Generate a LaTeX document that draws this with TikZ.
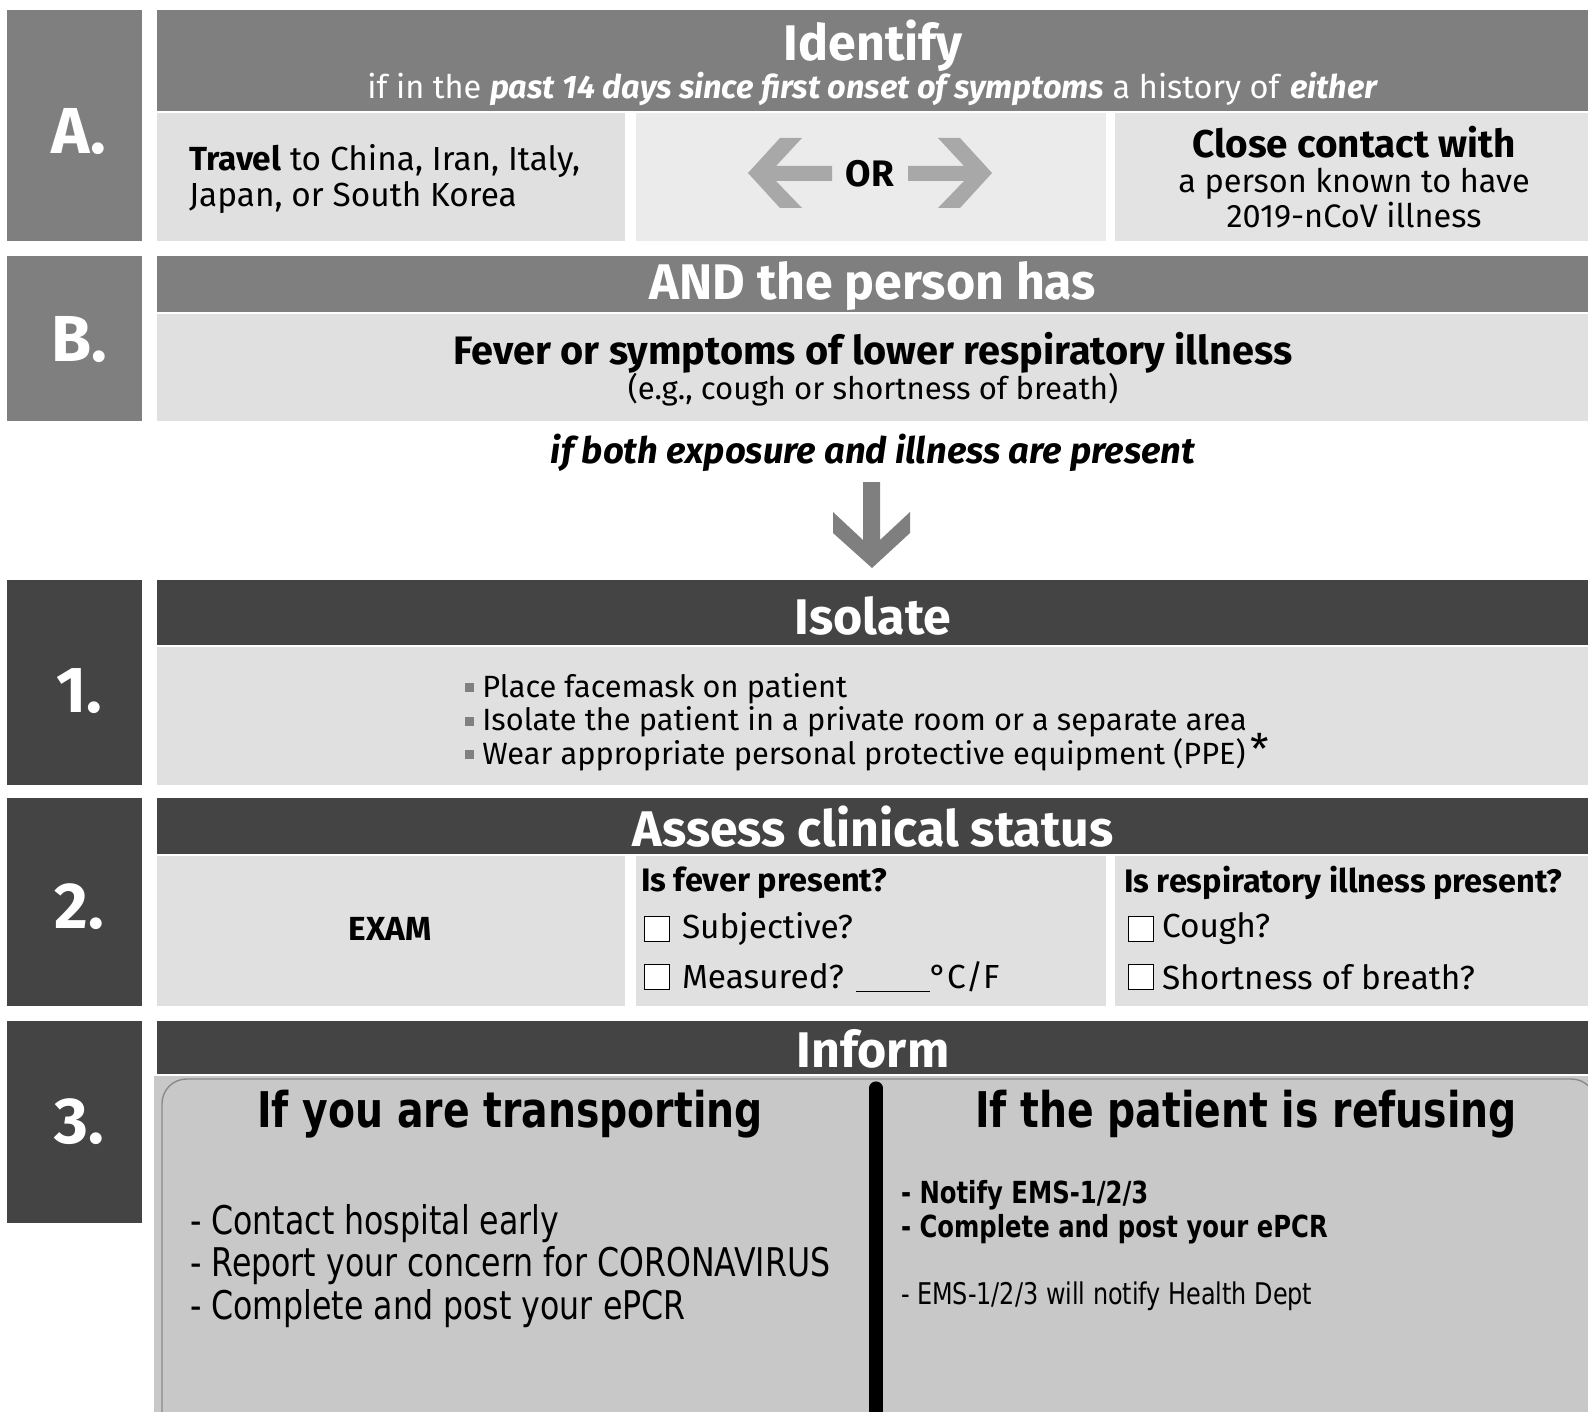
\documentclass[tikz,border=0pt]{standalone}
\usepackage{fontspec}
\setmainfont{Fira Sans}
\newfontfamily\tahoma{DejaVu Sans}[FakeStretch=0.8]
\usepackage{tikz}

\definecolor{midgrey}{HTML}{7F7F7F}
\definecolor{darkgrey}{HTML}{444444}
\definecolor{cellgrey}{HTML}{E0E0E0}
\definecolor{orcell}{HTML}{EBEBEB}
\definecolor{contactcell}{HTML}{E3E3E3}
\definecolor{informgrey}{HTML}{C8C8C8}
\definecolor{arrowgrey}{HTML}{A8A8A8}
\definecolor{downgrey}{HTML}{7F7F7F}
\definecolor{edgegrey}{HTML}{8A8A8A}

\begin{document}
\begin{tikzpicture}[x=0.02cm, y=-0.02cm,
    every node/.style={inner sep=0pt, outer sep=0pt},
    numlbl/.style={text=white, font=\fontsize{37}{40}\selectfont\bfseries},
    hdrtext/.style={text=white, font=\fontsize{28.5}{32}\selectfont\bfseries},
    bodytext/.style={font=\fontsize{19}{20}\selectfont},
    qtext/.style={font=\fontsize{18.5}{20}\selectfont\bfseries},
    chk/.style={draw, fill=white, line width=0.8pt, minimum size=0.5cm},
    infotitle/.style={font=\tahoma\fontsize{28}{30}\selectfont\bfseries},
    infotext/.style={font=\tahoma\fontsize{22.5}{24}\selectfont}]

    \useasboundingbox (0,0) rectangle (1588,1412);

    % Row A
    \fill[midgrey] (7,10) rectangle (142,241);
    \fill[midgrey] (157,10) rectangle (1588,111);
    \fill[cellgrey] (157,113) rectangle (625,241);
    \fill[orcell] (636,113) rectangle (1106,241);
    \fill[contactcell] (1115,113) rectangle (1588,241);
    % Row B
    \fill[midgrey] (7,256) rectangle (142,421);
    \fill[midgrey] (157,256) rectangle (1588,312);
    \fill[cellgrey] (157,314) rectangle (1588,421);
    % Row 1
    \fill[darkgrey] (7,580) rectangle (142,785);
    \fill[darkgrey] (157,580) rectangle (1588,645);
    \fill[cellgrey] (157,647) rectangle (1588,785);
    % Row 2
    \fill[darkgrey] (7,798) rectangle (142,1006);
    \fill[darkgrey] (157,798) rectangle (1588,854);
    \fill[cellgrey] (157,856) rectangle (625,1006);
    \fill[cellgrey] (636,856) rectangle (1106,1006);
    \fill[cellgrey] (1115,856) rectangle (1588,1006);
    % Row 3
    \fill[darkgrey] (7,1021) rectangle (142,1223);
    \fill[darkgrey] (157,1021) rectangle (1588,1074);
    \fill[informgrey] (154,1076) rectangle (1588,1412);
    \draw[edgegrey, line width=0.8pt, rounded corners=14pt]
        (162,1420) -- (162,1079) -- (1596,1079) -- (1596,1420);
    \draw[line width=7.5pt, line cap=round] (876,1088) -- (876,1420);

    % OR arrows
    \fill[arrowgrey] (748,173) -- (780,138) -- (802,138) -- (776,166) -- (832,166)
        -- (832,181) -- (776,181) -- (802,208) -- (780,208) -- cycle;
    \fill[arrowgrey] (992,173) -- (960,138) -- (938,138) -- (964,166) -- (908,166)
        -- (908,181) -- (964,181) -- (938,208) -- (960,208) -- cycle;
    % down arrow
    \fill[downgrey] (863,482) -- (880,482) -- (880,540) -- (910,512) -- (910,533)
        -- (872,568) -- (833,533) -- (833,512) -- (863,540) -- cycle;

    % step labels
    \node[numlbl] (labA) at (79,132) {A.};
    \node[numlbl] (labB) at (79,340) {B.};
    \node[numlbl] (lab1) at (79,691) {1.};
    \node[numlbl] (lab2) at (79,907) {2.};
    \node[numlbl] (lab3) at (79,1122) {3.};

    % A
    \node[hdrtext] (identify) at (873,46) {Identify};
    \node[text=white, font=\fontsize{18.5}{20}\selectfont] (since) at (873,89)
        {if in the \textbf{\textit{past 14 days since first onset of symptoms}} a history of \textbf{\textit{either}}};
    \node[bodytext, anchor=west, align=left] (travel) at (189,179)
        {\textbf{Travel} to China, Iran, Italy,\\Japan, or South Korea};
    \node[font=\fontsize{21}{22}\selectfont\bfseries] (or) at (870,174) {OR};
    \node[font=\fontsize{18.5}{20}\selectfont, align=center] (contact) at (1354,177)
        {{\fontsize{22}{20}\selectfont\bfseries Close contact with}\\a person known to have\\2019-nCoV illness};

    % B
    \node[hdrtext] (andhas) at (873,286) {AND the person has};
    \node[font=\fontsize{22.6}{24}\selectfont\bfseries] (fever) at (873,353)
        {Fever or symptoms of lower respiratory illness};
    \node[font=\fontsize{17.7}{20}\selectfont] (eg) at (873,390) {(e.g., cough or shortness of breath)};
    \node[font=\fontsize{20.7}{24}\selectfont\bfseries\itshape] (both) at (873,453)
        {if both exposure and illness are present};

    % 1
    \node[hdrtext] (isolate) at (873,616) {Isolate};
    \node[font=\fontsize{17.5}{19}\selectfont, anchor=west, align=left] (isolist) at (465,722)
        {\textcolor{gray}{\rule[0.3ex]{0.3em}{0.3em}}\ Place facemask on patient\\
         \textcolor{gray}{\rule[0.3ex]{0.3em}{0.3em}}\ Isolate the patient in a private room or a separate area\\
         \textcolor{gray}{\rule[0.3ex]{0.3em}{0.3em}}\ Wear appropriate personal protective equipment (PPE)\,\smash{\fontsize{24}{24}\selectfont*}};

    % 2
    \node[hdrtext] (assess) at (873,827) {Assess clinical status};
    \node[font=\fontsize{19}{20}\selectfont\bfseries] (exam) at (390,929) {EXAM};
    \node[qtext, anchor=west] (feverq) at (641,883) {Is fever present?};
    \node[chk] (chk1) at (657,929) {};
    \node[bodytext, anchor=west] (subj) at (682,929) {Subjective?};
    \node[chk] (chk2) at (657,977) {};
    \node[bodytext, anchor=west] (meas) at (682,977)
        {Measured? \rule[-0.2ex]{42pt}{0.8pt}°C/F};
    \node[qtext, anchor=west] (respq) at (1124,883) {Is respiratory illness present?};
    \node[chk] (chk3) at (1141,929) {};
    \node[bodytext, anchor=west] (cough) at (1162,929) {Cough?};
    \node[chk] (chk4) at (1141,977) {};
    \node[bodytext, anchor=west] (breath) at (1162,977) {Shortness of breath?};

    % 3
    \node[hdrtext] (inform) at (873,1049) {Inform};
    \node[infotitle] (transp) at (510,1114) {If you are transporting};
    \node[infotext, anchor=west, align=left] (translist) at (190,1266)
        {- Contact hospital early\\- Report your concern for CORONAVIRUS\\- Complete and post your ePCR};
    \node[infotitle] (refuse) at (1246,1114) {If the patient is refusing};
    \node[font=\tahoma\fontsize{17.3}{19.5}\selectfont\bfseries, anchor=west, align=left] (notify) at (901,1212)
        {- Notify EMS-1/2/3\\- Complete and post your ePCR};
    \node[font=\tahoma\fontsize{17}{19}\selectfont, anchor=west] (healthdept) at (901,1296)
        {- EMS-1/2/3 will notify Health Dept};
\end{tikzpicture}
\end{document}
